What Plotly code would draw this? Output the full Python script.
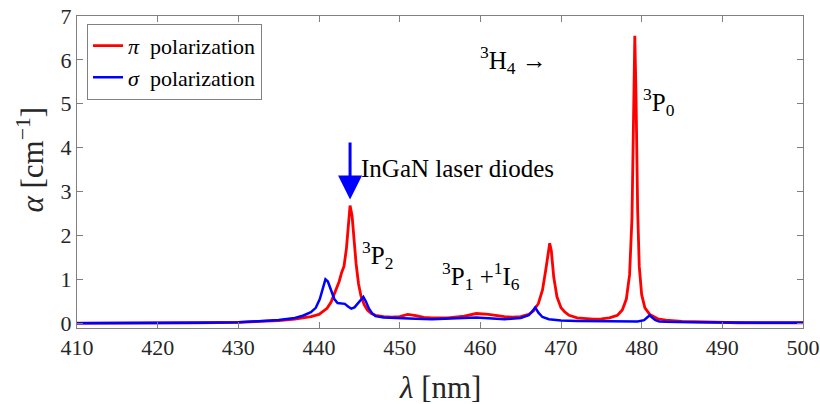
import plotly.graph_objects as go

# pi polarization (red)
wl_pi = [410, 415, 420, 425, 430, 433, 435, 437, 438, 439, 440, 440.5, 441, 441.5, 442, 442.5, 442.8,
         443.1, 443.4, 443.6, 443.85, 444.1, 444.3, 444.6, 444.9, 445.2, 445.6, 446, 446.5, 447, 448, 449,
         450, 451, 452, 453, 454, 456, 458, 459.5, 461, 462, 463, 464, 465, 466, 466.6, 467.2, 467.7,
         468.1, 468.4, 468.6, 468.8, 469.1, 469.5, 470, 470.5, 471, 472, 473, 474, 475, 476, 477, 477.6,
         478.1, 478.5, 478.8, 479.0, 479.15, 479.3, 479.5, 479.7, 480, 480.4, 481, 482, 483, 485, 488,
         492, 496, 500]
alpha_pi = [0.0, 0.0, 0.0, 0.01, 0.02, 0.04, 0.06, 0.09, 0.12, 0.15, 0.2, 0.26, 0.34, 0.48, 0.7, 0.95, 1.15,
            1.3, 1.7, 2.15, 2.68, 2.45, 1.95, 1.35, 0.9, 0.62, 0.42, 0.3, 0.22, 0.18, 0.15, 0.14,
            0.15, 0.2, 0.17, 0.13, 0.12, 0.12, 0.16, 0.22, 0.2, 0.17, 0.15, 0.14, 0.15, 0.2, 0.28, 0.45, 0.75,
            1.2, 1.6, 1.82, 1.65, 1.05, 0.6, 0.35, 0.25, 0.18, 0.12, 0.1, 0.09, 0.1, 0.12, 0.18, 0.3,
            0.55, 1.1, 2.4, 4.5, 6.55, 5.2, 2.6, 1.3, 0.65, 0.35, 0.2, 0.1, 0.07, 0.04, 0.02,
            0.01, 0.01, 0.01]

# sigma polarization (blue)
wl_sigma = [410, 415, 420, 425, 430, 433, 435, 437, 438, 439, 439.6, 440.1, 440.5, 440.8, 441.1, 441.5,
            441.9, 442.3, 442.8, 443.2, 443.6, 444.0, 444.4, 444.8, 445.2, 445.5, 445.8, 446.2, 446.6, 447,
            448, 450, 452, 454, 456, 458, 459.5, 461, 463, 465, 466, 466.4, 466.8, 467.2, 467.7, 468.5,
            470, 472, 475, 478, 479.5, 480.3, 480.7, 481.0, 481.3, 481.7, 482.2, 483, 486, 490, 495, 500]
alpha_sigma = [0.0, 0.0, 0.0, 0.01, 0.02, 0.04, 0.07, 0.12, 0.17, 0.25, 0.35, 0.55, 0.8, 1.0, 0.95, 0.75,
               0.55, 0.46, 0.45, 0.44, 0.38, 0.33, 0.36, 0.45, 0.55, 0.6, 0.5, 0.33, 0.22, 0.16,
               0.13, 0.11, 0.1, 0.09, 0.1, 0.12, 0.13, 0.11, 0.09, 0.12, 0.18, 0.26, 0.36, 0.24, 0.14, 0.09,
               0.06, 0.05, 0.04, 0.03, 0.04, 0.07, 0.13, 0.18, 0.13, 0.07, 0.04, 0.03, 0.02, 0.01, 0.01, 0.01]

x_ticks = [410, 420, 430, 440, 450, 460, 470, 480, 490, 500]
y_ticks = [0, 1, 2, 3, 4, 5, 6, 7]

FONT = "Liberation Serif, DejaVu Serif, serif"
AX = "#808080"
TXT = "#262626"

fig = go.Figure()
fig.add_trace(go.Scatter(x=wl_pi, y=alpha_pi, mode="lines", name="<i>π</i>  polarization",
                         line=dict(color="#ff0000", width=2.8)))
fig.add_trace(go.Scatter(x=wl_sigma, y=alpha_sigma, mode="lines", name="<i>σ</i>  polarization",
                         line=dict(color="#0000ff", width=2.5)))

axis_common = dict(showline=True, linecolor=AX, linewidth=1, mirror="ticks", ticks="inside",
                   ticklen=6, tickcolor=AX, showgrid=False, zeroline=False, automargin=False,
                   ticklabeloverflow="allow",
                   tickfont=dict(family=FONT, size=22, color=TXT))

fig.update_xaxes(range=[410, 500], tickvals=x_ticks, **axis_common)
fig.update_yaxes(range=[-0.11, 7], tickvals=y_ticks, **axis_common)

title_font = dict(family=FONT, size=31, color=TXT)
fig.add_annotation(x=0.5, y=0, xref="paper", yref="paper", yanchor="middle", yshift=-59,
                   showarrow=False, text="<i>λ</i> [nm]", font=title_font)
fig.add_annotation(x=0, y=0.54, xref="paper", yref="paper", xanchor="center", yanchor="middle",
                   xshift=-46, textangle=-90, showarrow=False,
                   text="<i>α</i> [cm<sup>−1</sup>]", font=title_font)

ann_font = dict(family=FONT, size=25, color="#000000")
fig.add_annotation(x=464.05, y=5.99, xref="x", yref="y", showarrow=False,
                   text="<sup>3</sup>H<sub>4</sub> →", font=ann_font)
fig.add_annotation(x=482.2, y=5.03, xref="x", yref="y", showarrow=False,
                   text="<sup>3</sup>P<sub>0</sub>", font=ann_font)
fig.add_annotation(x=444.9, y=3.53, xref="x", yref="y", showarrow=False, xanchor="left",
                   text="InGaN laser diodes", font=ann_font)
fig.add_annotation(x=447.2, y=1.55, xref="x", yref="y", showarrow=False,
                   text="<sup>3</sup>P<sub>2</sub>", font=ann_font)
fig.add_annotation(x=460.1, y=1.07, xref="x", yref="y", showarrow=False,
                   text="<sup>3</sup>P<sub>1</sub> +<sup>1</sup>I<sub>6</sub>", font=ann_font)
# arrow pointing to the 3P2 peak
fig.add_annotation(x=443.85, y=2.82, ax=443.85, ay=4.15, xref="x", yref="y", axref="x", ayref="y",
                   showarrow=True, arrowhead=2, arrowsize=1.6, arrowwidth=3, arrowcolor="#0000ff", text="")

fig.update_layout(
    width=820, height=404,
    margin=dict(l=77, r=17, t=16, b=76, autoexpand=False),
    paper_bgcolor="white", plot_bgcolor="white",
    font=dict(family=FONT, color=TXT),
    showlegend=True,
    legend=dict(x=0.0138, y=0.975, xanchor="left", yanchor="top",
                bgcolor="white", bordercolor=AX, borderwidth=1,
                font=dict(family=FONT, size=22, color="#000000"),
                tracegroupgap=0),
)

# remove the browser's default 8px page margin so the figure sits at the window origin
fig.write_html("out.html", config={"displayModeBar": False},
               post_script="document.body.style.margin='0';document.body.style.overflow='hidden';")
